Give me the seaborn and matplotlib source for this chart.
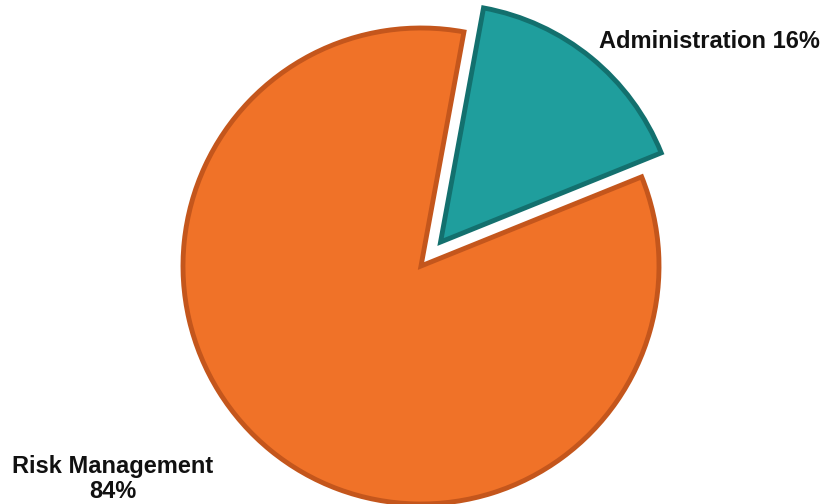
import matplotlib
matplotlib.use("Agg")
import matplotlib.pyplot as plt
import seaborn as sns

categories = ["Administration", "Risk Management"]
shares = [16, 84]
colors = ["#1F9E9D", "#F07228"]
edge_colors = ["#13706E", "#C4561C"]

sns.set_theme(style="white")
plt.rcParams["font.family"] = ["Liberation Sans", "DejaVu Sans"]

fig = plt.figure(figsize=(8.24, 5.04), dpi=100)
ax = fig.add_axes([0, 0, 1, 1])

radius = 238
wedges, _ = ax.pie(
    shares,
    colors=colors,
    startangle=22,
    counterclock=True,
    explode=[0.13 * radius, 0],
    radius=radius,
    center=(421, 238),
    wedgeprops=dict(linewidth=0),
)
for w, ec in zip(wedges, edge_colors):
    w.set_edgecolor(ec)
    w.set_linewidth(3.5)
    w.set_joinstyle("miter")
ax.set_xlim(0, 824)
ax.set_ylim(0, 504)
ax.set_aspect("equal")
ax.axis("off")

ax.text(709, 463, f"{categories[0]} {shares[0]}%", ha="center", va="center",
        fontsize=17, fontweight="bold", color="#111111")
ax.text(113, 25, f"{categories[1]}\n{shares[1]}%", ha="center", va="center",
        fontsize=17, fontweight="bold", color="#111111", linespacing=1.1)

fig.savefig("out.png", dpi=100, facecolor="white")
